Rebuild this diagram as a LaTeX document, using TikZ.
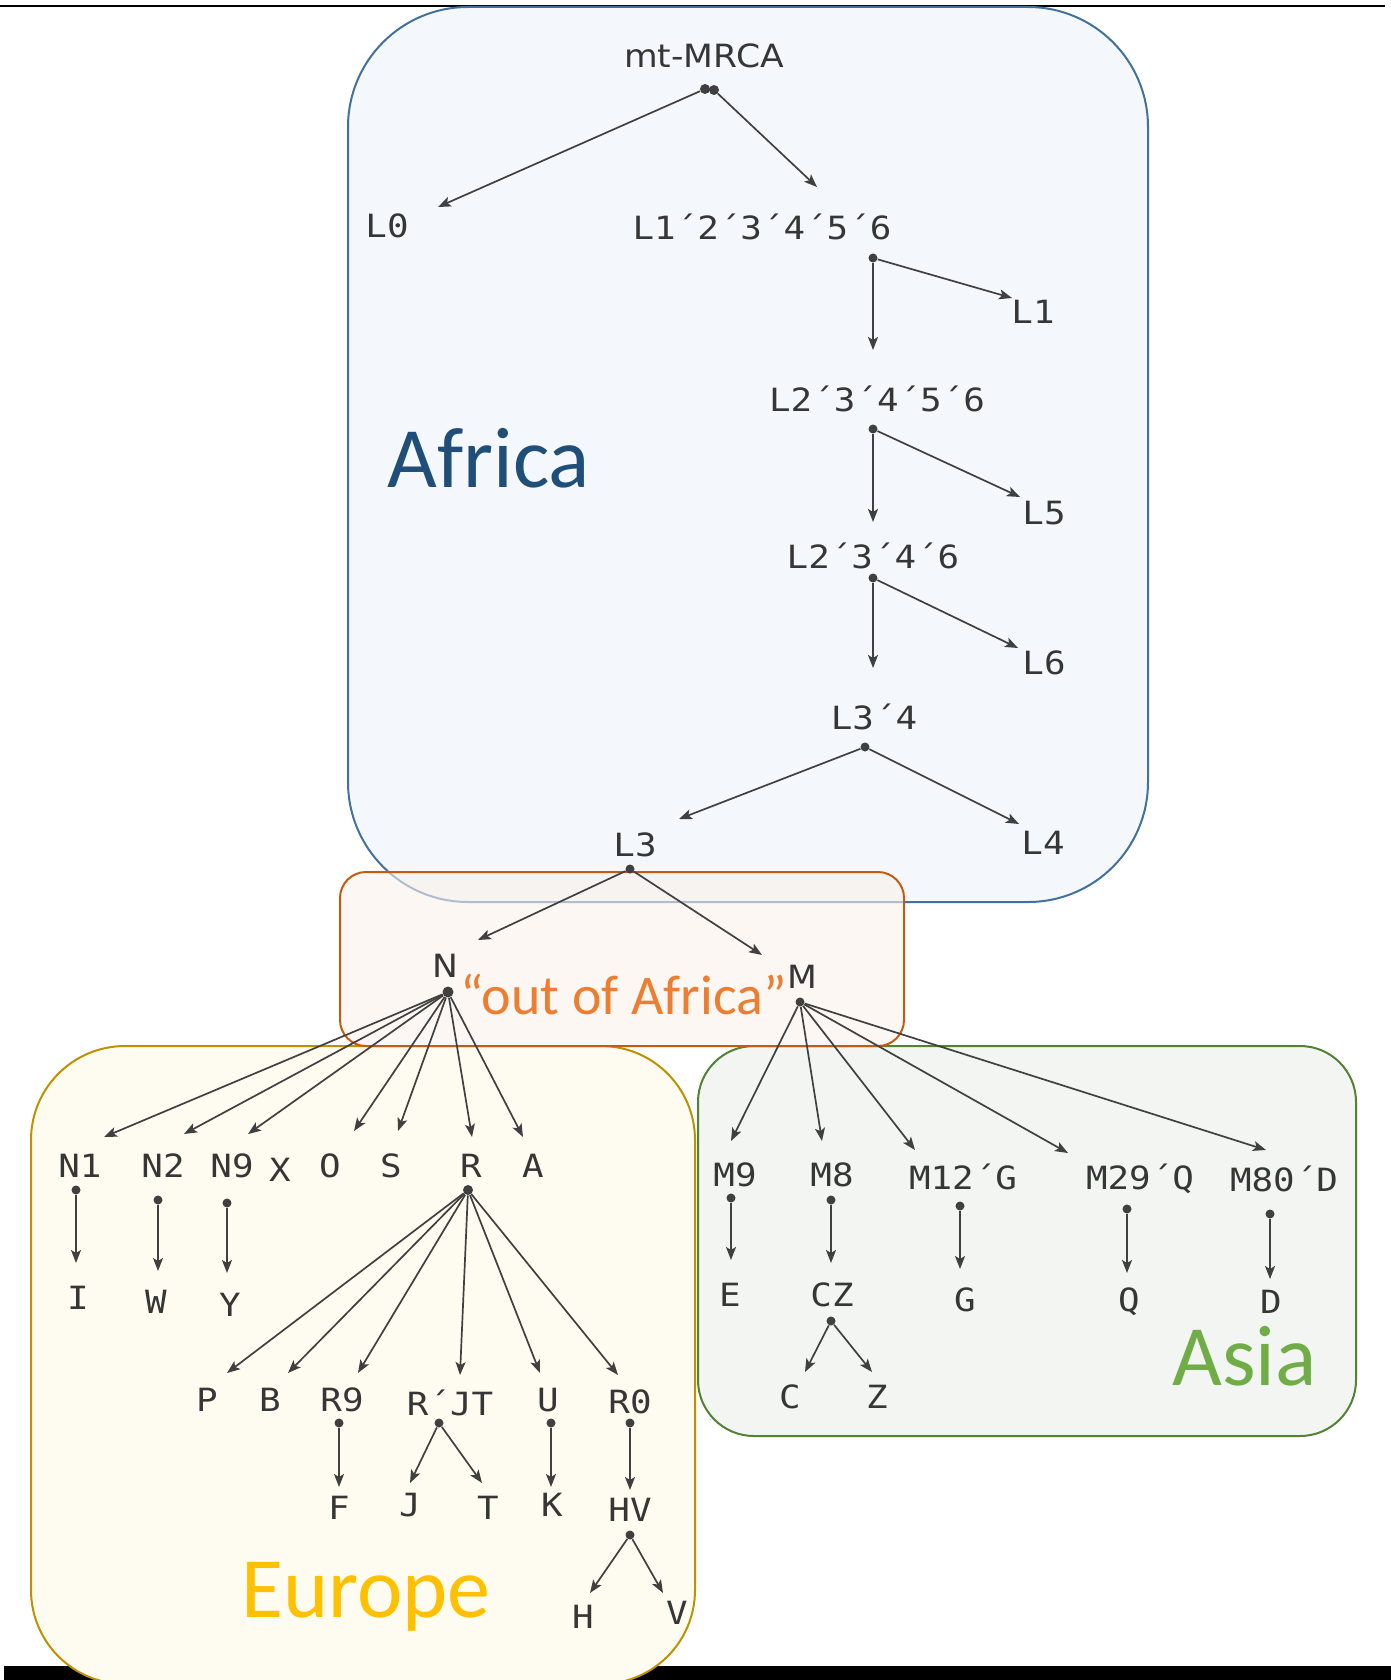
\documentclass[tikz,border=0pt]{standalone}
\usepackage{fontspec}
\setmainfont{DejaVu Sans}
\newfontfamily\monof[FakeStretch=1.12]{DejaVu Sans Mono}
\newfontfamily\sansf[FakeStretch=1.08]{DejaVu Sans}
\newfontfamily\calib{Carlito}
\usetikzlibrary{arrows.meta}
\definecolor{txtgray}{HTML}{363636}
\definecolor{arrgray}{HTML}{404040}
\definecolor{afrfill}{HTML}{F4F7FB}
\definecolor{afrline}{HTML}{41719C}
\definecolor{afrtext}{HTML}{1F4E79}
\definecolor{oofline}{HTML}{C55A11}
\definecolor{ooffill}{HTML}{FAF1EA}
\definecolor{ooftext}{HTML}{ED7D31}
\definecolor{eurline}{HTML}{BF9000}
\definecolor{eurfill}{HTML}{FEFCF0}
\definecolor{eurtext}{HTML}{FFC000}
\definecolor{asiline}{HTML}{548235}
\definecolor{asifill}{HTML}{F3F5F2}
\definecolor{asitext}{HTML}{70AD47}
\tikzset{
  lbl/.style={font=\monof\fontsize{16}{16}\selectfont, text=txtgray, inner sep=0pt},
  lbls/.style={font=\sansf\fontsize{16}{16}\selectfont, text=txtgray, inner sep=0pt},
  dotn/.style={circle, fill=arrgray, inner sep=0pt, minimum size=4.5pt},
  arr/.style={draw=arrgray, line width=0.85pt, -{Stealth[length=6.5pt,width=5pt,inset=1.5pt]}},
  region/.style={font=\calib\fontsize{43}{43}\selectfont, inner sep=0pt, anchor=base west},
  boxline/.style={line width=1pt}
}
\begin{document}
\begin{tikzpicture}[x=0.5pt,y=-0.5pt]
\useasboundingbox (0,0) rectangle (1391,1680);
% frame lines
\draw[black, line width=0.8pt] (0,6) -- (1385,6);
\fill[black] (4,1666) rectangle (1391,1680);
% boxes
\draw[boxline, draw=afrline, fill=afrfill, rounded corners=60pt] (348,7) rectangle (1148,902);
\draw[boxline, draw=eurline, fill=eurfill, rounded corners=47pt] (31,1046) rectangle (695,1684);
\draw[boxline, draw=asiline, fill=asifill, rounded corners=28pt] (698,1046) rectangle (1356,1436);
\draw[boxline, draw=oofline, fill=ooffill, fill opacity=0.6, rounded corners=13pt] (340,872) rectangle (904,1046);
% region labels
\node[region, text=afrtext] (tAfrica) at (387,487) {Africa};
\node[region, text=eurtext] (tEurope) at (241,1617) {Europe};
\node[region, text=asitext] (tAsia) at (1172,1385) {Asia};
\node[region, text=ooftext, font=\calib\fontsize{28}{28}\selectfont] (tOoA) at (460,1014) {“out of Africa”};
% labels
\node[lbls] (mt) at (704,56) {mt-MRCA};
\node[lbl] (L0) at (387,226) {L0};
\node[lbl] (L123456) at (762,227) {L1´2´3´4´5´6};
\node[lbl] (L1) at (1033,312) {L1};
\node[lbl] (L23456) at (877,399) {L2´3´4´5´6};
\node[lbl] (L5) at (1044,513) {L5};
\node[lbl] (L2346) at (873,556) {L2´3´4´6};
\node[lbl] (L6) at (1044,663) {L6};
\node[lbl] (L34) at (874,717) {L3´4};
\node[lbl] (L3) at (635,845) {L3};
\node[lbl] (L4) at (1043,843) {L4};
\node[lbls] (N) at (445,966) {N};
\node[lbls] (M) at (802,977) {M};
\node[lbl] (N1) at (80,1166) {N1};
\node[lbl] (N2) at (163,1166) {N2};
\node[lbl] (N9) at (232,1166) {N9};
\node[lbl] (X) at (280,1170) {X};
\node[lbl] (O) at (330,1166) {O};
\node[lbl] (S) at (391,1166) {S};
\node[lbl] (R) at (471,1166) {R};
\node[lbl] (A) at (533,1166) {A};
\node[lbl] (I) at (78,1298) {I};
\node[lbl] (W) at (156,1302) {W};
\node[lbl] (Y) at (230,1305) {Y};
\node[lbl] (P) at (207,1400) {P};
\node[lbl] (B) at (270,1400) {B};
\node[lbl] (R9) at (342,1400) {R9};
\node[lbl] (RJT) at (450,1403) {R´JT};
\node[lbl] (U) at (548,1400) {U};
\node[lbl] (R0) at (630,1402) {R0};
\node[lbl] (F) at (339,1508) {F};
\node[lbl] (J) at (410,1505) {J};
\node[lbl] (T) at (488,1508) {T};
\node[lbl] (K) at (552,1505) {K};
\node[lbl] (HV) at (630,1510) {HV};
\node[lbl] (H) at (583,1617) {H};
\node[lbl] (V) at (677,1613) {V};
\node[lbl] (M9) at (735,1175) {M9};
\node[lbl] (M8) at (832,1175) {M8};
\node[lbl] (M12G) at (963,1177) {M12´G};
\node[lbl] (M29Q) at (1140,1179) {M29´Q};
\node[lbl] (M80D) at (1284,1179) {M80´D};
\node[lbl] (E) at (730,1295) {E};
\node[lbl] (CZ) at (832,1295) {CZ};
\node[lbl] (G) at (965,1300) {G};
\node[lbl] (Q) at (1129,1302) {Q};
\node[lbl] (D) at (1271,1302) {D};
\node[lbl] (C) at (790,1397) {C};
\node[lbl] (Z) at (877,1397) {Z};
% dots
\node[dotn, minimum size=5pt] (dMa) at (705,89) {};
\node[dotn, minimum size=5pt] (dMb) at (714,90) {};
\node[dotn] (dL123456) at (873,258) {};
\node[dotn] (dL23456) at (873,429) {};
\node[dotn] (dL2346) at (873,578) {};
\node[dotn] (dL34) at (865,747) {};
\node[dotn] (dL3) at (630,869) {};
\node[dotn, minimum size=5.5pt] (dN) at (448,992) {};
\node[dotn] (dM) at (800,1002) {};
\node[dotn] (dN1) at (76,1190) {};
\node[dotn] (dN2) at (158,1200) {};
\node[dotn] (dN9) at (227,1203) {};
\node[dotn, minimum size=5pt] (dR) at (468,1190) {};
\node[dotn] (dR9) at (339,1423) {};
\node[dotn] (dRJT) at (439,1423) {};
\node[dotn] (dU) at (551,1423) {};
\node[dotn] (dR0) at (630,1423) {};
\node[dotn] (dHV) at (630,1535) {};
\node[dotn] (dM9) at (731,1198) {};
\node[dotn] (dM8) at (831,1200) {};
\node[dotn] (dCZ) at (831,1321) {};
\node[dotn] (dM12) at (960,1206) {};
\node[dotn] (dM29) at (1127,1209) {};
\node[dotn] (dM80) at (1270,1214) {};
% arrow tips
\coordinate (tL0) at (438,207);
\coordinate (tL123456) at (817,187);
\coordinate (tL1) at (1012,298);
\coordinate (tL23456) at (873,350);
\coordinate (tL5) at (1020,497);
\coordinate (tL2346) at (873,522);
\coordinate (tL6) at (1018,648);
\coordinate (tL34) at (873,668);
\coordinate (tL3) at (679,819);
\coordinate (tL4) at (1019,824);
\coordinate (tN) at (478,940);
\coordinate (tM) at (762,955);
\coordinate (tN1) at (104,1137);
\coordinate (tN2) at (184,1134);
\coordinate (tN9) at (248,1134);
\coordinate (tO) at (354,1131);
\coordinate (tS) at (398,1131);
\coordinate (tR) at (472,1137);
\coordinate (tA) at (523,1137);
\coordinate (tI) at (76,1263);
\coordinate (tW) at (158,1271);
\coordinate (tY) at (227,1273);
\coordinate (tP) at (227,1373);
\coordinate (tB) at (288,1373);
\coordinate (tR9) at (358,1373);
\coordinate (tRJT) at (460,1375);
\coordinate (tU) at (540,1373);
\coordinate (tR0) at (618,1375);
\coordinate (tF) at (339,1487);
\coordinate (tJ) at (410,1483);
\coordinate (tT) at (482,1483);
\coordinate (tK) at (551,1487);
\coordinate (tHV) at (630,1490);
\coordinate (tH) at (590,1593);
\coordinate (tV) at (663,1593);
\coordinate (tM9) at (731,1141);
\coordinate (tM8) at (822,1141);
\coordinate (tM12) at (915,1150);
\coordinate (tM29) at (1068,1153);
\coordinate (tM80) at (1266,1150);
\coordinate (tE) at (731,1260);
\coordinate (tCZ) at (831,1263);
\coordinate (tG) at (960,1269);
\coordinate (tQ) at (1127,1273);
\coordinate (tD) at (1270,1279);
\coordinate (tC) at (805,1372);
\coordinate (tZ) at (872,1372);
% arrows
\draw[arr] (dMa) -- (tL0);
\draw[arr] (dMb) -- (tL123456);
\draw[arr] (dL123456) -- (tL1);
\draw[arr] (dL123456) -- (tL23456);
\draw[arr] (dL23456) -- (tL5);
\draw[arr] (dL23456) -- (tL2346);
\draw[arr] (dL2346) -- (tL6);
\draw[arr] (dL2346) -- (tL34);
\draw[arr] (dL34) -- (tL3);
\draw[arr] (dL34) -- (tL4);
\draw[arr] (dL3) -- (tN);
\draw[arr] (dL3) -- (tM);
\draw[arr] (dN) -- (tN1);
\draw[arr] (dN) -- (tN2);
\draw[arr] (dN) -- (tN9);
\draw[arr] (dN) -- (tO);
\draw[arr] (dN) -- (tS);
\draw[arr] (dN) -- (tR);
\draw[arr] (dN) -- (tA);
\draw[arr] (dN1) -- (tI);
\draw[arr] (dN2) -- (tW);
\draw[arr] (dN9) -- (tY);
\draw[arr] (dR) -- (tP);
\draw[arr] (dR) -- (tB);
\draw[arr] (dR) -- (tR9);
\draw[arr] (dR) -- (tRJT);
\draw[arr] (dR) -- (tU);
\draw[arr] (dR) -- (tR0);
\draw[arr] (dR9) -- (tF);
\draw[arr] (dRJT) -- (tJ);
\draw[arr] (dRJT) -- (tT);
\draw[arr] (dU) -- (tK);
\draw[arr] (dR0) -- (tHV);
\draw[arr] (dHV) -- (tH);
\draw[arr] (dHV) -- (tV);
\draw[arr] (dM) -- (tM9);
\draw[arr] (dM) -- (tM8);
\draw[arr] (dM) -- (tM12);
\draw[arr] (dM) -- (tM29);
\draw[arr] (dM) -- (tM80);
\draw[arr] (dM9) -- (tE);
\draw[arr] (dM8) -- (tCZ);
\draw[arr] (dCZ) -- (tC);
\draw[arr] (dCZ) -- (tZ);
\draw[arr] (dM12) -- (tG);
\draw[arr] (dM29) -- (tQ);
\draw[arr] (dM80) -- (tD);
\end{tikzpicture}
\end{document}
